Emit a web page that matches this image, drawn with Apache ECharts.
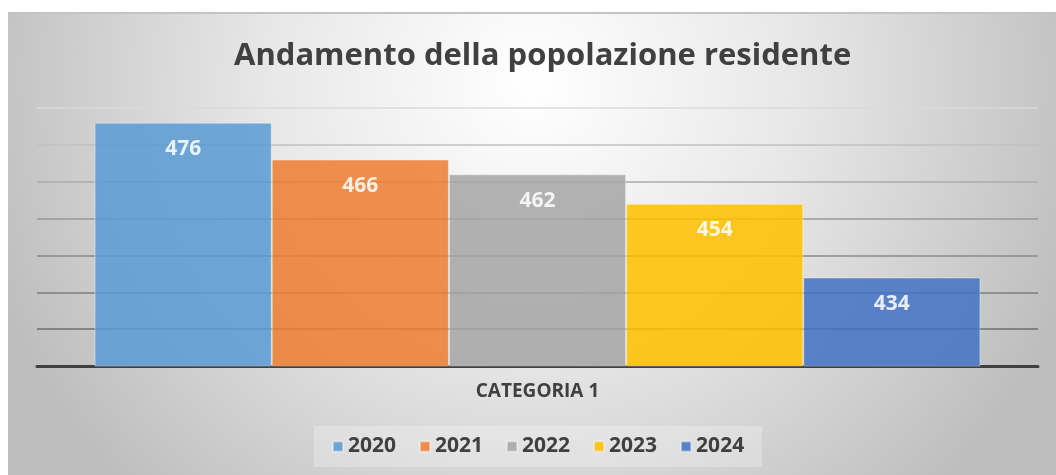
<!DOCTYPE html>
<html>
<head>
<meta charset="utf-8">
<script src="https://cdn.jsdelivr.net/npm/echarts@6/dist/echarts.min.js"></script>
<style>
html,body{margin:0;padding:0;background:#fff;}
#c{width:1056px;height:475px;}
</style>
</head>
<body>
<div id="c"></div>
<script>
const categories = ['CATEGORIA 1'];
const years = ['2020', '2021', '2022', '2023', '2024'];
const values = [476, 466, 462, 454, 434];
const colors = ['#5B9BD5', '#ED7D31', '#A5A5A5', '#FFC000', '#4472C4'];

const chart = echarts.init(document.getElementById('c'));
const FONT = '"Open Sans", sans-serif';

const series = years.map((y, i) => ({
  name: y,
  type: 'bar',
  data: [values[i]],
  barGap: '0%',
  barCategoryGap: '11.5%',
  itemStyle: { color: colors[i], opacity: 0.86, borderColor: 'rgba(255,255,255,0.45)', borderWidth: 1 },
  label: {
    show: true, position: 'insideTop', distance: 16,
    color: '#ffffff', fontSize: 21, fontWeight: 'bold', fontFamily: FONT
  },
  emphasis: { disabled: true }
}));

chart.setOption({
  backgroundColor: '#ffffff',
  animation: false,
  graphic: [
    {
      type: 'rect', z: -10, silent: true,
      shape: { x: 8, y: 13, width: 1048, height: 462 },
      style: {
        fill: {
          type: 'radial', x: 0.5, y: 0.15, r: 1.25,
          colorStops: [
            { offset: 0, color: '#ffffff' },
            { offset: 0.45, color: '#e8e8e8' },
            { offset: 1, color: '#bdbdbd' }
          ]
        }
      }
    },
    {
      type: 'rect', z: -9, silent: true,
      shape: { x: 8, y: 12, width: 1048, height: 2 },
      style: { fill: '#c4c4c4' }
    }
  ],
  title: {
    text: 'Andamento della popolazione residente',
    left: 229, top: 36,
    textStyle: { fontFamily: FONT, fontSize: 31, fontWeight: 'bold', color: '#404040' }
  },
  legend: {
    data: years,
    bottom: 8, left: 314,
    itemWidth: 10, itemHeight: 10, itemGap: 23,
    icon: 'rect',
    backgroundColor: 'rgba(255,255,255,0.25)',
    padding: [10, 18, 10, 18],
    textStyle: { fontFamily: FONT, fontSize: 21, fontWeight: 'bold', color: '#404040' }
  },
  grid: { left: 37, right: 18, top: 108, bottom: 109 },
  xAxis: {
    type: 'category',
    data: categories,
    axisLine: { show: true, lineStyle: { color: '#404040', width: 3 } },
    axisTick: { show: false },
    axisLabel: { margin: 16, fontFamily: FONT, fontSize: 19, fontWeight: 'bold', color: '#404040' }
  },
  yAxis: {
    type: 'value', min: 410, max: 480, interval: 10,
    axisLabel: { show: false },
    axisLine: { show: false },
    axisTick: { show: false },
    splitLine: {
      show: true,
      lineStyle: {
        width: 1.5,
        color: ['#404040', '#6e6e6e', '#7c7c7c', '#8a8a8a', '#999999', '#ababab', '#c0c0c0', '#dadada']
      }
    }
  },
  series: series
});
</script>
</body>
</html>
